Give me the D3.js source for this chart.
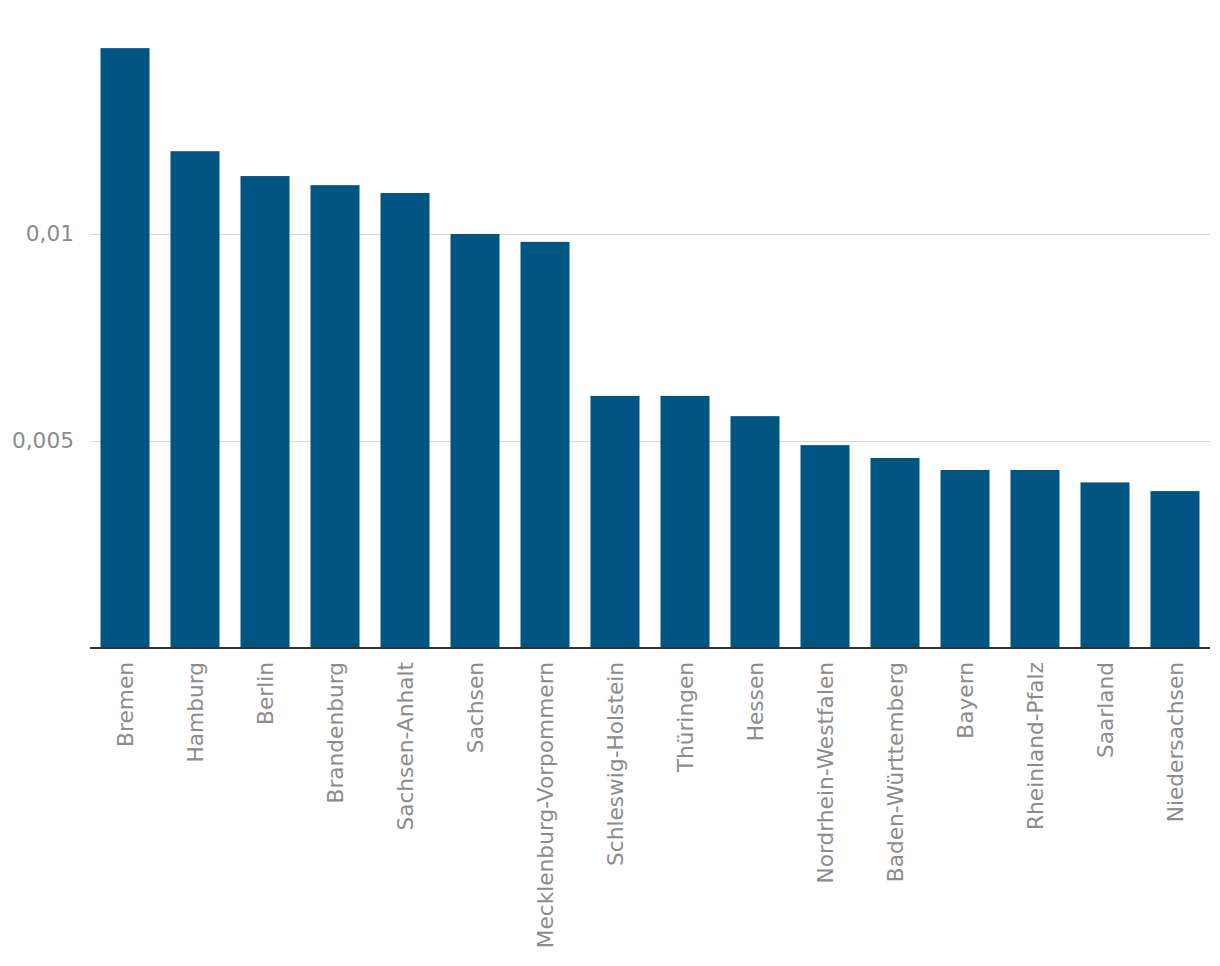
<!DOCTYPE html>
<html><head><meta charset="utf-8">
<script src="https://cdn.jsdelivr.net/npm/d3@7"></script>
<style>body{margin:0;background:#fff;} text{font-family:"DejaVu Sans",Verdana,sans-serif;}</style>
</head><body><svg id="c" width="1220" height="966"></svg>
<script>
const categories = ["Bremen","Hamburg","Berlin","Brandenburg","Sachsen-Anhalt","Sachsen","Mecklenburg-Vorpommern","Schleswig-Holstein","Thüringen","Hessen","Nordrhein-Westfalen","Baden-Württemberg","Bayern","Rheinland-Pfalz","Saarland","Niedersachsen"];
const values = [0.01449,0.0120,0.0114,0.01118,0.01099,0.0100,0.00981,0.00609,0.00609,0.0056,0.0049,0.00459,0.0043,0.0043,0.0040,0.00379];
const yTicks = [0.005,0.01];
const yTickLabels = ["0,005","0,01"];

const svg = d3.select("#c");
const left = 90, right = 1210, base = 648;
const x = d3.scaleBand().domain(categories).range([left,right]).paddingInner(0.3).paddingOuter(0.15);
const y = d3.scaleLinear().domain([0,0.015]).range([base, base-0.015*41400]);

const yAxis = d3.axisLeft(y).tickValues(yTicks).tickFormat((d,i)=>yTickLabels[i]).tickSize(-(right-left)).tickPadding(16);
const gy = svg.append("g").attr("transform",`translate(${left},0)`).call(yAxis);
gy.select(".domain").remove();
gy.selectAll(".tick line").attr("stroke","#d9d9d9").attr("stroke-width",1);
gy.selectAll(".tick text").attr("fill","#8c8c8c").attr("font-size",21.7).attr("font-family","DejaVu Sans, Verdana, sans-serif");

svg.append("g").selectAll("rect").data(values).join("rect")
  .attr("x",(d,i)=>x(categories[i])).attr("width",x.bandwidth())
  .attr("y",d=>y(d)).attr("height",d=>y(0)-y(d)).attr("fill","#005582");

const xAxis = d3.axisBottom(x).tickSize(0).tickPadding(0);
const gx = svg.append("g").attr("transform",`translate(0,${base})`).call(xAxis);
gx.select(".domain").attr("stroke","#333").attr("stroke-width",2).attr("d",`M${left},0H${right}`);
gx.selectAll(".tick text").attr("fill","#8c8c8c").attr("font-size",21.7).attr("font-family","DejaVu Sans, Verdana, sans-serif")
  .attr("transform","rotate(-90)").attr("text-anchor","end").attr("x",-14).attr("y",0).attr("dy","0.35em");
</script></body></html>
